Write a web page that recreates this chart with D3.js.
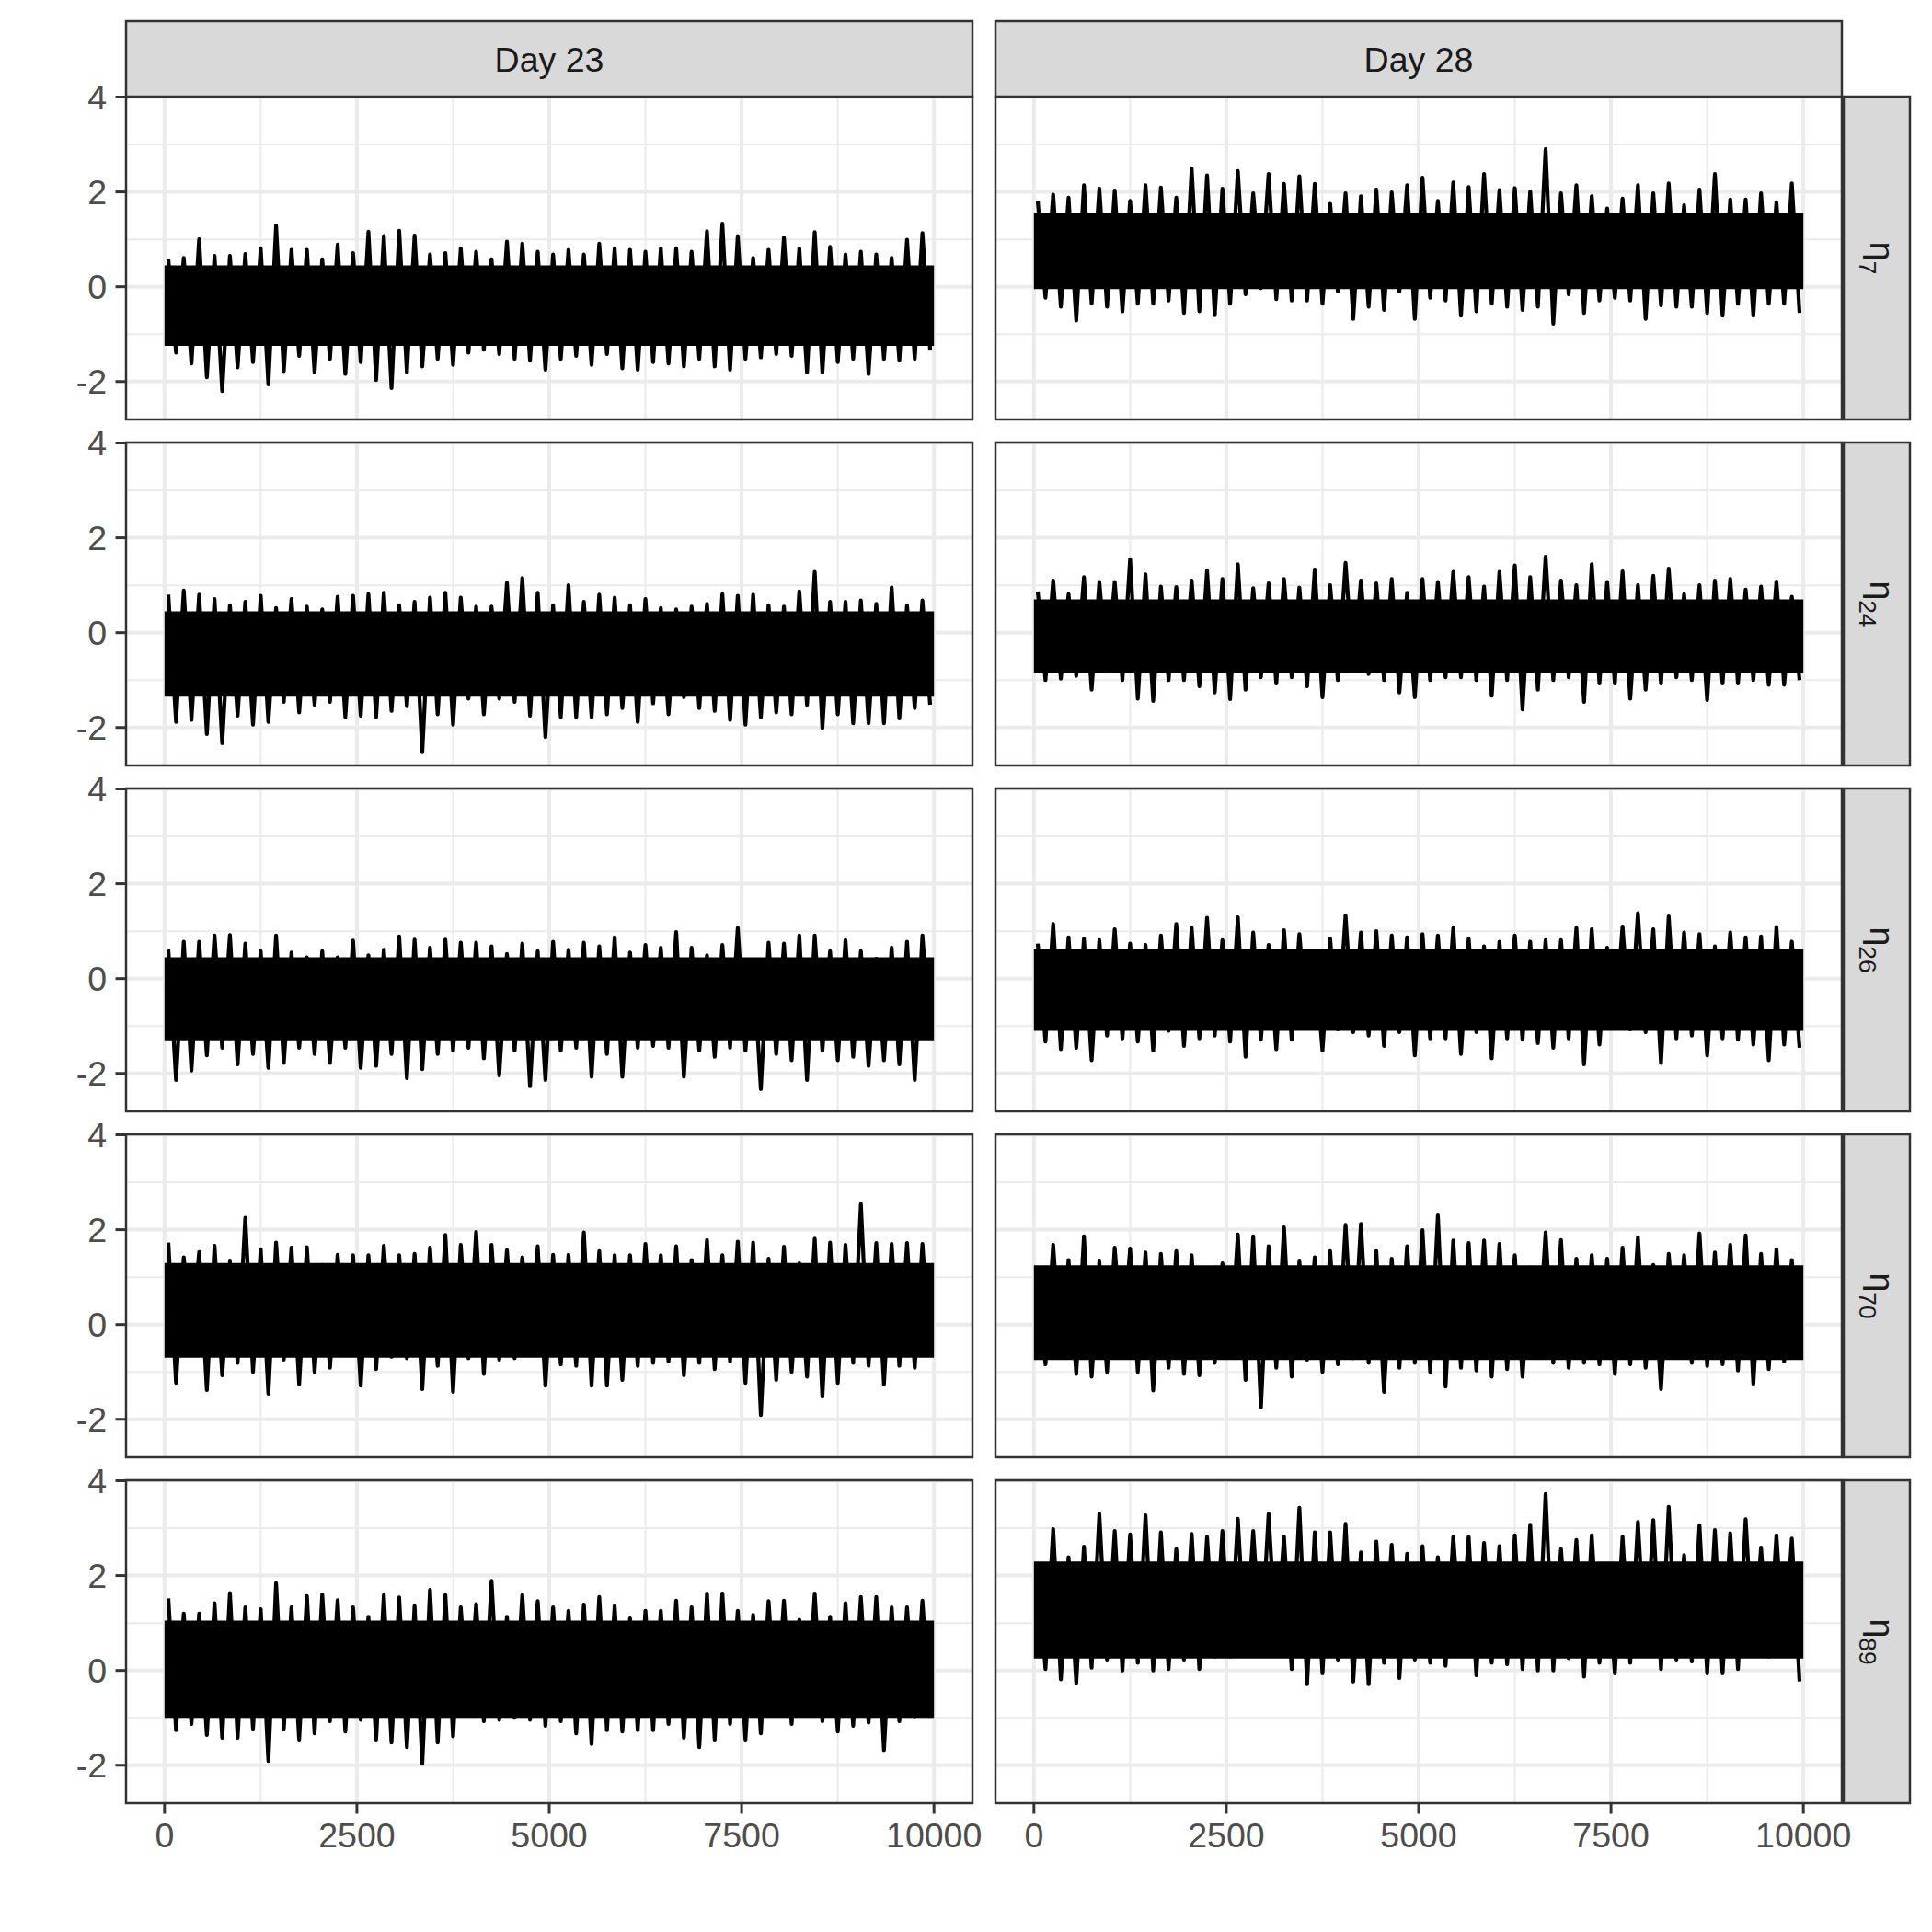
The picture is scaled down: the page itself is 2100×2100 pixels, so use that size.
<!DOCTYPE html>
<html><head><meta charset="utf-8">
<script src="https://cdn.jsdelivr.net/npm/d3@7"></script>
<style>body{margin:0;background:#fff}</style>
</head><body><div id="chart"></div>
<script>
// ---------------- data ----------------
const days = ["Day 23", "Day 28"];
const params = ["7", "24", "26", "70", "89"];
const xTicks = [0, 2500, 5000, 7500, 10000];
const xMinor = [1250, 3750, 6250, 8750];
const yTicks = [-2, 0, 2, 4];
const yMinor = [-1, 1, 3];
const binWidth = 200;   // iterations covered by one envelope reading

// upper / lower extremes of the trace in each 200-iteration window
const d23_eta7_hi = [0.58,0.61,1.00,0.65,0.65,0.69,0.81,1.29,0.78,0.78,0.58,0.89,0.71,1.16,1.07,1.18,1.08,0.68,0.71,0.81,0.74,0.58,0.95,0.91,0.74,0.68,0.78,0.68,0.91,0.81,0.78,0.74,0.81,0.81,0.74,1.17,1.33,1.07,0.61,0.78,1.04,0.81,1.15,0.84,0.68,0.74,0.68,0.61,0.99,1.13];
const d23_eta7_lo = [-1.39,-1.62,-1.91,-2.20,-1.70,-1.59,-2.06,-1.78,-1.46,-1.81,-1.52,-1.84,-1.59,-1.97,-2.14,-1.81,-1.68,-1.52,-1.65,-1.39,-1.33,-1.42,-1.52,-1.55,-1.75,-1.52,-1.46,-1.65,-1.42,-1.72,-1.75,-1.59,-1.62,-1.68,-1.52,-1.68,-1.75,-1.52,-1.49,-1.42,-1.46,-1.81,-1.81,-1.59,-1.52,-1.84,-1.52,-1.55,-1.52,-1.33];
const d28_eta7_hi = [1.81,1.94,1.88,2.14,2.07,2.03,1.81,2.14,2.09,1.88,2.49,2.35,2.07,2.44,1.97,2.38,2.17,2.33,2.17,1.75,1.97,1.91,2.05,1.99,2.14,2.30,1.81,2.20,2.10,2.38,2.04,2.08,2.01,2.90,1.97,2.14,1.91,1.65,1.86,2.14,1.97,2.18,1.72,2.05,2.38,1.84,1.84,1.97,1.78,2.18];
const d28_eta7_lo = [-0.23,-0.42,-0.71,-0.36,-0.42,-0.52,-0.36,-0.36,-0.29,-0.55,-0.52,-0.60,-0.36,-0.16,-0.03,-0.26,-0.29,-0.29,-0.36,-0.10,-0.68,-0.42,-0.49,-0.10,-0.68,-0.23,-0.29,-0.61,-0.52,-0.36,-0.42,-0.49,-0.42,-0.78,-0.16,-0.55,-0.29,-0.23,-0.29,-0.68,-0.39,-0.42,-0.42,-0.55,-0.61,-0.36,-0.61,-0.36,-0.36,-0.55];
const d23_eta24_hi = [0.80,0.89,0.80,0.71,0.58,0.65,0.78,0.52,0.71,0.55,0.49,0.76,0.78,0.81,0.84,0.58,0.65,0.74,0.84,0.74,0.55,0.55,1.05,1.15,0.84,0.58,1.00,0.65,0.80,0.74,0.58,0.71,0.52,0.49,0.55,0.61,0.81,0.78,0.80,0.58,0.55,0.87,1.28,0.65,0.65,0.68,0.61,0.95,0.58,0.68];
const d23_eta24_lo = [-1.88,-1.84,-2.14,-2.33,-1.75,-1.94,-1.88,-1.46,-1.68,-1.52,-1.46,-1.78,-1.75,-1.78,-1.65,-1.55,-2.52,-1.72,-1.94,-1.39,-1.72,-1.39,-1.46,-1.75,-2.20,-1.78,-1.78,-1.78,-1.72,-1.59,-1.88,-1.49,-1.72,-1.36,-1.59,-1.65,-1.84,-1.94,-1.78,-1.68,-1.72,-1.52,-2.01,-1.72,-1.91,-1.91,-1.91,-1.81,-1.59,-1.52];
const d28_eta24_hi = [0.87,1.10,0.81,1.17,1.07,1.07,1.55,1.23,0.97,0.96,1.10,1.31,1.13,1.44,0.94,1.04,1.13,0.95,1.33,1.00,1.47,1.10,1.04,1.13,0.84,1.13,1.07,1.28,1.17,0.97,1.28,1.42,1.17,1.60,1.10,1.00,1.44,1.07,1.29,1.00,1.20,1.35,0.81,1.00,1.10,1.13,0.91,0.97,1.08,0.76];
const d28_eta24_lo = [-1.00,-0.97,-0.91,-1.20,-0.81,-1.00,-1.39,-1.44,-1.00,-1.00,-1.13,-1.26,-1.40,-1.20,-0.94,-1.07,-0.94,-1.13,-1.36,-1.00,-0.81,-0.87,-1.00,-1.26,-1.36,-1.00,-0.94,-0.94,-1.00,-1.33,-1.00,-1.62,-1.20,-1.00,-0.94,-1.46,-1.07,-1.07,-1.39,-1.20,-1.07,-0.94,-1.00,-1.42,-1.07,-1.07,-1.00,-1.10,-1.10,-1.00];
const d23_eta26_hi = [0.61,0.78,0.78,0.91,0.92,0.74,0.58,0.91,0.55,0.45,0.58,0.45,0.80,0.49,0.61,0.89,0.82,0.65,0.82,0.76,0.76,0.68,0.52,0.74,0.58,0.78,0.61,0.76,0.68,0.87,0.55,0.71,0.65,0.98,0.65,0.49,0.71,1.07,0.36,0.76,0.74,0.91,0.91,0.58,0.81,0.58,0.42,0.65,0.78,0.91];
const d23_eta26_lo = [-2.14,-1.94,-1.62,-1.46,-1.81,-1.59,-1.88,-1.78,-1.46,-1.59,-1.78,-1.46,-1.88,-1.84,-1.59,-2.10,-1.91,-1.59,-1.52,-1.46,-1.68,-2.04,-1.52,-2.27,-2.14,-1.52,-1.46,-2.07,-1.59,-2.07,-1.46,-1.42,-1.46,-2.07,-1.52,-1.65,-1.46,-1.52,-2.33,-1.59,-1.72,-2.14,-1.52,-1.72,-1.65,-1.84,-1.72,-1.81,-2.14,-1.26];
const d28_eta26_hi = [0.74,1.15,0.87,0.84,0.81,1.04,0.74,0.71,0.91,1.15,1.07,1.28,0.81,1.29,0.97,0.71,1.02,0.94,0.49,0.84,1.33,0.97,1.00,0.91,0.87,0.94,0.91,1.07,0.84,0.68,0.78,0.91,0.78,0.81,0.81,1.07,1.04,0.65,1.10,1.38,1.04,1.31,0.97,0.94,0.68,0.97,0.87,0.89,1.09,0.78];
const d28_eta26_lo = [-1.33,-1.49,-1.46,-1.72,-1.20,-1.26,-1.33,-1.52,-1.10,-1.42,-1.26,-1.20,-1.33,-1.65,-1.29,-1.49,-1.29,-1.00,-1.52,-1.07,-1.13,-1.20,-1.42,-1.13,-1.62,-1.26,-1.26,-1.59,-1.13,-1.68,-1.26,-1.29,-1.36,-1.46,-1.26,-1.81,-1.39,-1.00,-1.07,-1.13,-1.78,-1.26,-1.20,-1.62,-1.26,-1.29,-1.39,-1.72,-1.39,-1.46];
const d23_eta70_hi = [1.73,1.42,1.53,1.66,1.33,2.25,1.59,1.73,1.62,1.63,1.26,1.47,1.46,1.46,1.66,1.46,1.49,1.62,1.89,1.68,1.95,1.68,1.57,1.42,1.65,1.47,1.47,1.94,1.55,1.46,1.46,1.70,1.46,1.65,1.36,1.78,1.46,1.75,1.73,1.39,1.64,1.29,1.81,1.73,1.68,2.54,1.72,1.70,1.72,1.70];
const d23_eta70_lo = [-1.23,-0.49,-1.38,-1.07,-0.81,-1.00,-1.46,-0.74,-1.26,-1.00,-0.91,-0.55,-1.29,-0.94,-0.68,-0.71,-1.36,-0.87,-1.42,-0.71,-1.04,-0.74,-0.71,-0.55,-1.29,-0.84,-0.87,-1.29,-1.29,-1.17,-0.87,-0.81,-0.78,-1.07,-0.81,-0.94,-0.78,-1.23,-1.91,-1.17,-1.00,-1.10,-1.52,-1.23,-0.81,-0.87,-1.26,-0.87,-0.91,-0.61];
const d28_eta70_hi = [1.17,1.68,1.36,1.86,1.33,1.62,1.60,1.52,1.49,1.55,1.46,1.07,1.29,1.90,1.86,1.65,2.05,1.33,1.42,1.55,2.10,2.12,1.55,1.39,1.65,1.99,2.30,1.77,1.72,1.77,1.70,1.46,1.20,1.94,1.78,1.39,1.46,1.39,1.62,1.84,1.26,1.49,1.46,1.92,1.52,1.68,1.88,1.49,1.59,1.36];
const d28_eta70_lo = [-0.84,-0.68,-1.04,-1.10,-1.00,-0.52,-1.00,-1.39,-0.91,-1.04,-1.07,-0.81,-0.68,-1.17,-1.75,-0.91,-1.10,-0.74,-1.00,-0.84,-0.71,-0.81,-1.42,-0.91,-0.81,-1.00,-1.31,-0.91,-0.97,-1.10,-0.94,-1.10,-0.68,-0.81,-0.91,-0.81,-0.84,-1.04,-0.84,-0.91,-1.36,-0.61,-0.81,-0.87,-0.84,-0.97,-1.25,-0.94,-0.78,-0.58];
const d23_eta89_hi = [1.52,1.20,1.20,1.42,1.63,1.33,1.29,1.84,1.33,1.57,1.60,1.48,1.33,1.13,1.59,1.54,1.36,1.70,1.59,1.33,1.40,1.89,1.13,1.59,1.46,1.33,1.26,1.39,1.55,1.36,1.10,1.26,1.26,1.47,1.33,1.62,1.62,1.26,1.17,1.46,1.47,1.07,1.62,1.13,1.42,1.55,1.55,1.33,1.33,1.47];
const d23_eta89_lo = [-1.26,-1.13,-1.36,-1.42,-1.42,-1.23,-1.91,-1.23,-1.46,-1.33,-1.07,-1.29,-1.04,-1.46,-1.52,-1.62,-1.97,-1.52,-1.39,-0.94,-1.07,-1.04,-1.00,-1.04,-1.17,-1.07,-1.33,-1.55,-1.26,-1.29,-1.26,-1.26,-1.13,-1.42,-1.62,-1.46,-1.13,-1.46,-1.33,-0.91,-1.13,-0.87,-1.07,-1.29,-1.17,-1.10,-1.68,-1.07,-0.97,-1.00];
const d28_eta89_hi = [2.27,2.98,2.39,2.61,3.30,2.94,2.87,3.27,2.91,2.56,2.88,2.82,2.94,3.20,2.94,3.30,2.82,3.43,2.91,2.91,3.09,2.49,2.72,2.65,2.46,2.62,2.39,2.82,2.82,2.69,2.62,2.85,3.07,3.72,2.56,2.75,2.85,2.20,2.82,3.13,3.17,3.45,2.43,3.06,2.96,2.89,3.19,2.59,2.85,2.78];
const d28_eta89_lo = [0.03,-0.19,-0.26,0.06,0.23,0.00,0.16,0.00,0.03,0.23,0.03,0.29,0.29,0.36,0.39,0.49,0.03,-0.29,-0.06,0.23,-0.23,-0.29,0.16,-0.16,0.23,0.16,0.10,0.52,-0.10,0.16,0.13,0.03,0.00,0.00,0.26,-0.13,0.16,-0.06,0.16,0.32,0.03,0.23,0.19,-0.06,-0.06,0.03,0.36,0.29,0.36,-0.23];

// densely-filled central band of each trace (row-major: eta7 D23, eta7 D28, eta24 D23, ...)
const coreLow  = [-1.25, -0.05, -1.35, -0.85, -1.30, -1.10, -0.70, -0.75, -1.00, 0.25];
const coreHigh = [ 0.45,  1.55,  0.45,  0.70,  0.45,  0.62,  1.30,  1.25,  1.05, 2.30];

const traces = [
  [d23_eta7_hi, d23_eta7_lo], [d28_eta7_hi, d28_eta7_lo],
  [d23_eta24_hi, d23_eta24_lo], [d28_eta24_hi, d28_eta24_lo],
  [d23_eta26_hi, d23_eta26_lo], [d28_eta26_hi, d28_eta26_lo],
  [d23_eta70_hi, d23_eta70_lo], [d28_eta70_hi, d28_eta70_lo],
  [d23_eta89_hi, d23_eta89_lo], [d28_eta89_hi, d28_eta89_lo]
];

// ---------------- layout ----------------
const W = 2100, H = 2100;
const colX = [137, 1082], panelW = 920;
const rowY0 = 105, rowStep = 376, panelH = 351;
const stripTop = 23, stripRightX = 2004, stripRightW = 72;
const FS = 37.5;
const axisCol = "#4D4D4D", borderCol = "#333333", gridCol = "#EBEBEB", stripFill = "#D9D9D9";

const svg = d3.select("#chart").append("svg").attr("width", W).attr("height", H)
  .style("font-family", "'Liberation Sans', Arial, Helvetica, sans-serif");
svg.append("rect").attr("width", W).attr("height", H).attr("fill", "#fff");

const xDomain = [-500, 10500];
const yDomain = [-2.80, 4.01];

params.forEach((p, r) => {
  days.forEach((dname, c) => {
    const left = colX[c], top = rowY0 + r * rowStep;
    const x = d3.scaleLinear().domain(xDomain).range([left, left + panelW]);
    const y = d3.scaleLinear().domain(yDomain).range([top + panelH, top]);
    const g = svg.append("g");
    const clipId = `clip-${r}-${c}`;
    svg.append("clipPath").attr("id", clipId).append("rect")
      .attr("x", left).attr("y", top).attr("width", panelW).attr("height", panelH);

    g.append("rect").attr("x", left).attr("y", top).attr("width", panelW).attr("height", panelH).attr("fill", "#fff");
    // minor grid
    g.selectAll(".xm").data(xMinor).join("line")
      .attr("x1", d => x(d)).attr("x2", d => x(d)).attr("y1", top).attr("y2", top + panelH)
      .attr("stroke", gridCol).attr("stroke-width", 2);
    g.selectAll(".ym").data(yMinor).join("line")
      .attr("y1", d => y(d)).attr("y2", d => y(d)).attr("x1", left).attr("x2", left + panelW)
      .attr("stroke", gridCol).attr("stroke-width", 2);
    // major grid
    g.selectAll(".xM").data(xTicks).join("line")
      .attr("x1", d => x(d)).attr("x2", d => x(d)).attr("y1", top).attr("y2", top + panelH)
      .attr("stroke", gridCol).attr("stroke-width", 4);
    g.selectAll(".yM").data(yTicks).join("line")
      .attr("y1", d => y(d)).attr("y2", d => y(d)).attr("x1", left).attr("x2", left + panelW)
      .attr("stroke", gridCol).attr("stroke-width", 4);

    const idx = r * 2 + c;
    const [hi, lo] = traces[idx];
    const gd = g.append("g").attr("clip-path", `url(#${clipId})`);
    // dense core of the trace
    const area = d3.area().x(d => x(d)).y0(y(coreLow[idx])).y1(y(coreHigh[idx]));
    gd.append("path").datum([0, 10000]).attr("d", area).attr("fill", "#000");
    // trace envelope zig-zag
    const pts = [];
    hi.forEach((v, i) => {
      pts.push([i * binWidth + 50, v]);
      pts.push([i * binWidth + 150, lo[i]]);
    });
    const line = d3.line().x(d => x(d[0])).y(d => y(d[1]));
    gd.append("path").datum(pts).attr("d", line).attr("fill", "none")
      .attr("stroke", "#000").attr("stroke-width", 4.2).attr("stroke-linejoin", "round");

    // panel border
    g.append("rect").attr("x", left).attr("y", top).attr("width", panelW).attr("height", panelH)
      .attr("fill", "none").attr("stroke", borderCol).attr("stroke-width", 2.5);

    // y axis on left column
    if (c === 0) {
      g.selectAll(".yt").data(yTicks).join("line")
        .attr("x1", left - 11.5).attr("x2", left).attr("y1", d => y(d)).attr("y2", d => y(d))
        .attr("stroke", borderCol).attr("stroke-width", 3);
      g.selectAll(".yl").data(yTicks).join("text")
        .attr("x", left - 21).attr("y", d => y(d) + FS * 0.36)
        .attr("text-anchor", "end").attr("font-size", FS).attr("fill", axisCol)
        .text(d => String(d));
    }
    // x axis on bottom row
    if (r === params.length - 1) {
      g.selectAll(".xt").data(xTicks).join("line")
        .attr("x1", d => x(d)).attr("x2", d => x(d)).attr("y1", top + panelH).attr("y2", top + panelH + 11.5)
        .attr("stroke", borderCol).attr("stroke-width", 3);
      g.selectAll(".xl").data(xTicks).join("text")
        .attr("x", d => x(d)).attr("y", top + panelH + 21 + FS * 0.72)
        .attr("text-anchor", "middle").attr("font-size", FS).attr("fill", axisCol)
        .text(d => d);
    }
    // top strip
    if (r === 0) {
      g.append("rect").attr("x", left).attr("y", stripTop).attr("width", panelW).attr("height", top - stripTop)
        .attr("fill", stripFill).attr("stroke", borderCol).attr("stroke-width", 2.5);
      g.append("text").attr("x", left + panelW / 2).attr("y", (stripTop + top) / 2 + FS * 0.36)
        .attr("text-anchor", "middle").attr("font-size", FS).attr("fill", "#1A1A1A").text(dname);
    }
    // right strip
    if (c === 1) {
      g.append("rect").attr("x", stripRightX).attr("y", top).attr("width", stripRightW).attr("height", panelH)
        .attr("fill", stripFill).attr("stroke", borderCol).attr("stroke-width", 2.5);
      const cx = stripRightX + stripRightW / 2, cy = top + panelH / 2;
      const t = g.append("text").attr("transform", `translate(${cx},${cy}) rotate(90)`)
        .attr("text-anchor", "middle").attr("y", FS * 0.2).attr("font-size", FS).attr("fill", "#1A1A1A");
      t.append("tspan").text("η");
      t.append("tspan").attr("font-size", FS * 0.7).attr("dy", FS * 0.3).text(p);
    }
  });
});
</script></body></html>
